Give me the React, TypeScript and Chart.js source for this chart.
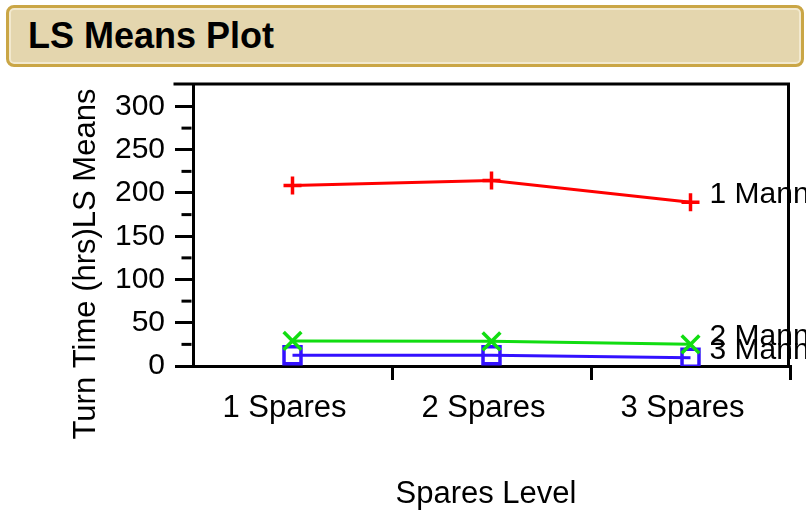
import React, { useEffect, useRef } from 'react';
import { Chart, registerables } from 'chart.js';

Chart.register(...registerables);

const categories = ['1 Spares', '2 Spares', '3 Spares'];
const seriesNames = ['1 Manning', '2 Manning', '3 Manning'];
const manning1 = [208.6, 214.4, 189.4];
const manning2 = [29, 28.5, 25];
const manning3 = [12.5, 12.3, 9.5];
const minorTicks = [25, 75, 125, 175, 225, 275];
const yTitle = 'Turn Time (hrs)LS Means';
const xTitle = 'Spares Level';
const panelTitle = 'LS Means Plot';

const FONT = '"Liberation Sans", Arial, Helvetica, sans-serif';

const framePlugin = {
  id: 'frame',
  afterDatasetsDraw(chart: any) {
    const { ctx, chartArea } = chart;
    const { left, right, top, bottom } = chartArea;
    const y = chart.scales.y;
    ctx.save();
    ctx.strokeStyle = '#000';
    ctx.lineWidth = 3;
    minorTicks.forEach((v) => {
      const py = y.getPixelForValue(v);
      ctx.beginPath();
      ctx.moveTo(left - 11.5, py);
      ctx.lineTo(left - 1.5, py);
      ctx.stroke();
    });
    // end-of-line labels
    ctx.font = `30px ${FONT}`;
    ctx.fillStyle = '#000';
    ctx.textBaseline = 'alphabetic';
    ctx.textAlign = 'left';
    chart.data.datasets.forEach((ds: any, i: number) => {
      const meta = chart.getDatasetMeta(i);
      const pt = meta.data[meta.data.length - 1];
      ctx.fillText(ds.label, pt.x + 19, pt.y + 1);
    });
    // top and right frame
    ctx.lineCap = 'square';
    ctx.beginPath();
    ctx.moveTo(left - 18, top);
    ctx.lineTo(right - 1.5, top);
    ctx.lineTo(right - 1.5, bottom);
    ctx.stroke();
    // axis titles
    ctx.font = `31px ${FONT}`;
    ctx.textAlign = 'center';
    ctx.textBaseline = 'middle';
    ctx.fillText(xTitle, 486, 494);
    ctx.translate(86, 264);
    ctx.rotate(-Math.PI / 2);
    ctx.fillText(yTitle, 0, 0);
    ctx.restore();
  },
};

export default function App() {
  const ref = useRef<HTMLCanvasElement>(null);
  useEffect(() => {
    if (!ref.current) return;
    const chart = new Chart(ref.current, {
      type: 'line',
      data: {
        labels: categories,
        datasets: [
          {
            label: seriesNames[0],
            data: manning1,
            borderColor: '#ff0000',
            borderWidth: 3,
            pointStyle: 'cross',
            pointRadius: 9,
            pointBorderWidth: 3.5,
            pointBorderColor: '#ff0000',
            pointBackgroundColor: 'rgba(0,0,0,0)',
          },
          {
            label: seriesNames[1],
            data: manning2,
            borderColor: '#11dd11',
            borderWidth: 3,
            pointStyle: 'crossRot',
            pointRadius: 12.5,
            pointBorderWidth: 3.5,
            pointBorderColor: '#11dd11',
            pointBackgroundColor: 'rgba(0,0,0,0)',
          },
          {
            label: seriesNames[2],
            data: manning3,
            borderColor: '#3311ff',
            borderWidth: 3,
            pointStyle: 'rect',
            pointRadius: 12,
            pointBorderWidth: 3.5,
            pointBorderColor: '#3311ff',
            pointBackgroundColor: 'rgba(0,0,0,0)',
          },
        ],
      },
      options: {
        animation: false,
        responsive: false,
        maintainAspectRatio: false,
        layout: { padding: { top: 84, right: 13, left: 0, bottom: 0 } },
        plugins: { legend: { display: false }, tooltip: { enabled: false } },
        scales: {
          x: {
            type: 'category',
            offset: true,
            afterFit: (s: any) => {
              s.height = 146;
            },
            grid: {
              offset: true,
              drawOnChartArea: false,
              tickLength: 14,
              lineWidth: 3,
              color: (c: any) => (c.index === 0 || c.index >= 3 ? 'rgba(0,0,0,0)' : '#000'),
            },
            border: { display: true, color: '#000', width: 3 },
            ticks: {
              color: '#000',
              font: { family: FONT, size: 31 },
              padding: 10,
              maxRotation: 0,
              labelOffset: -8,
            },
          },
          y: {
            type: 'linear',
            min: 0,
            max: 326,
            afterFit: (s: any) => {
              s.width = 193;
            },
            grid: { drawOnChartArea: false, tickLength: 18, lineWidth: 3, color: '#000' },
            border: { display: true, color: '#000', width: 3 },
            ticks: {
              stepSize: 50,
              includeBounds: false,
              color: '#000',
              padding: 10,
              font: { family: FONT, size: 30 },
            },
          },
        },
      },
      plugins: [framePlugin],
    });
    return () => chart.destroy();
  }, []);

  return (
    <div style={{ position: 'fixed', left: 0, top: 0, width: 806, height: 512, background: '#fff', overflow: 'hidden' }}>
      <canvas ref={ref} width={806} height={512} style={{ position: 'absolute', left: 0, top: 0, width: 806, height: 512 }} />
      <div
        style={{
          position: 'absolute',
          left: 6,
          top: 5,
          width: 798,
          height: 62,
          boxSizing: 'border-box',
          border: '3px solid #caa646',
          borderRadius: 8,
          background: '#e4d6ae',
          boxShadow: 'inset 0 0 0 2px #f2e9cf',
          fontFamily: FONT,
          fontWeight: 'bold',
          fontSize: 36,
          lineHeight: '56px',
          paddingLeft: 19,
          color: '#000',
          whiteSpace: 'nowrap',
        }}
      >
        {panelTitle}
      </div>
    </div>
  );
}
